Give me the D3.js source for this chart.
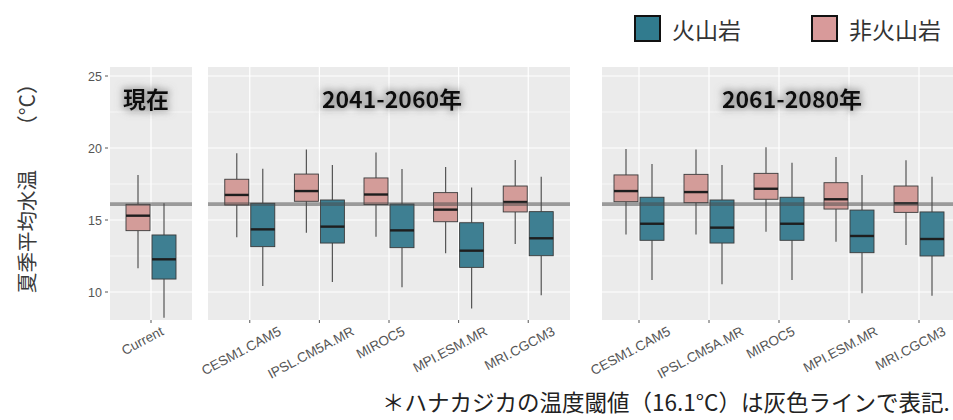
<!DOCTYPE html>
<html>
<head>
<meta charset="utf-8">
<script src="https://cdn.jsdelivr.net/npm/d3@7"></script>
<style>
  html, body { margin: 0; padding: 0; background: #fff; }
  svg { display: block; }
</style>
</head>
<body>
<svg id="chart" width="953" height="420"></svg>
<script>
// Summer mean water temperature by period, climate model and geology.
// Each box: [lower whisker, Q1, median, Q3, upper whisker] in °C.
const periods = ["現在", "2041-2060年", "2061-2080年"];
const currentCategories = ["Current"];
const models = ["CESM1.CAM5", "IPSL.CM5A.MR", "MIROC5", "MPI.ESM.MR", "MRI.CGCM3"];
const groups = ["非火山岩", "火山岩"];

const currentNonVolcanic = [[11.65, 14.26, 15.30, 16.09, 18.13]];
const currentVolcanic    = [[8.22, 10.90, 12.27, 13.96, 16.16]];

const midNonVolcanic = [
  [13.80, 16.04, 16.74, 17.83, 19.63],
  [14.12, 16.30, 17.01, 18.19, 19.90],
  [13.84, 16.07, 16.77, 17.92, 19.69],
  [12.69, 14.88, 15.72, 16.90, 18.68],
  [13.33, 15.56, 16.25, 17.36, 19.17]
];
const midVolcanic = [
  [10.42, 13.15, 14.35, 16.16, 18.56],
  [10.69, 13.40, 14.54, 16.39, 18.82],
  [10.33, 13.08, 14.28, 16.11, 18.54],
  [8.86, 11.71, 12.87, 14.81, 17.25],
  [9.77, 12.52, 13.73, 15.58, 18.00]
];
const lateNonVolcanic = [
  [13.99, 16.27, 17.01, 18.13, 19.93],
  [13.99, 16.20, 16.94, 18.17, 19.90],
  [14.19, 16.44, 17.17, 18.24, 20.05],
  [13.49, 15.76, 16.44, 17.59, 19.38],
  [13.26, 15.53, 16.16, 17.36, 19.15]
];
const lateVolcanic = [
  [10.83, 13.59, 14.74, 16.58, 18.89],
  [10.53, 13.40, 14.47, 16.39, 18.82],
  [10.83, 13.59, 14.74, 16.58, 18.98],
  [9.91, 12.73, 13.89, 15.69, 18.13],
  [9.74, 12.50, 13.68, 15.56, 18.00]
];

const yTicks = [10, 15, 20, 25];
const yMinorTicks = [12.5, 17.5, 22.5];
const threshold = 16.1;

const groupColors = { "非火山岩": "#d39c99", "火山岩": "#3e7f92" };
const legendColors = { "火山岩": "#317b8e", "非火山岩": "#d89a9a" };

const svg = d3.select("#chart");

// Glow behind the panel titles
const defs = svg.append("defs");
const glow = defs.append("filter").attr("id", "glow")
  .attr("x", "-30%").attr("y", "-60%").attr("width", "160%").attr("height", "220%");
glow.append("feMorphology").attr("in", "SourceAlpha").attr("operator", "dilate").attr("radius", 2).attr("result", "d");
glow.append("feGaussianBlur").attr("in", "d").attr("stdDeviation", 3.5).attr("result", "b");
glow.append("feFlood").attr("flood-color", "#7a7a7a").attr("flood-opacity", 0.55);
glow.append("feComposite").attr("in2", "b").attr("operator", "in").attr("result", "g");
const merge = glow.append("feMerge");
merge.append("feMergeNode").attr("in", "g");
merge.append("feMergeNode").attr("in", "SourceGraphic");

const panelTop = 67, panelBottom = 320;
const y = d3.scaleLinear().domain([10, 25]).range([292, 76]);

const panels = [
  { title: periods[0], cats: currentCategories, lo: 110, hi: 192, range: [110, 192], titleX: 146, nonV: currentNonVolcanic, vol: currentVolcanic },
  { title: periods[1], cats: models, lo: 208, hi: 570, range: [208, 570], titleX: 392, nonV: midNonVolcanic, vol: midVolcanic },
  { title: periods[2], cats: models, lo: 602, hi: 953, range: [597, 961], titleX: 792, nonV: lateNonVolcanic, vol: lateVolcanic }
];

const dodge = d3.scaleBand().domain(groups).range([-25, 25]).paddingInner(2 / 26);

panels.forEach(p => {
  const x = d3.scalePoint().domain(p.cats).range(p.range).padding(0.6);
  const g = svg.append("g");

  g.append("rect")
    .attr("x", p.lo).attr("y", panelTop)
    .attr("width", p.hi - p.lo).attr("height", panelBottom - panelTop)
    .attr("fill", "#ebebeb");

  g.selectAll(".minor").data(yMinorTicks).join("line")
    .attr("x1", p.lo).attr("x2", p.hi)
    .attr("y1", d => y(d)).attr("y2", d => y(d))
    .attr("stroke", "#fff").attr("stroke-width", 0.6);
  g.selectAll(".major").data(yTicks).join("line")
    .attr("x1", p.lo).attr("x2", p.hi)
    .attr("y1", d => y(d)).attr("y2", d => y(d))
    .attr("stroke", "#fff").attr("stroke-width", 1.2);
  g.selectAll(".vgrid").data(p.cats).join("line")
    .attr("x1", d => x(d)).attr("x2", d => x(d))
    .attr("y1", panelTop).attr("y2", panelBottom)
    .attr("stroke", "#fff").attr("stroke-width", 1.2);

  // x ticks
  g.selectAll(".xtick").data(p.cats).join("line")
    .attr("x1", d => x(d)).attr("x2", d => x(d))
    .attr("y1", panelBottom).attr("y2", panelBottom + 3)
    .attr("stroke", "#555").attr("stroke-width", 1);

  // boxes
  const rows = [];
  p.cats.forEach((c, i) => {
    rows.push({ cat: c, grp: "非火山岩", s: p.nonV[i] });
    rows.push({ cat: c, grp: "火山岩", s: p.vol[i] });
  });
  const bw = dodge.bandwidth();
  const box = g.selectAll(".box").data(rows).join("g");
  const cx = d => x(d.cat) + dodge(d.grp) + bw / 2;
  box.append("line")
    .attr("x1", cx).attr("x2", cx)
    .attr("y1", d => y(d.s[0])).attr("y2", d => y(d.s[1]))
    .attr("stroke", "#555").attr("stroke-width", 1.2);
  box.append("line")
    .attr("x1", cx).attr("x2", cx)
    .attr("y1", d => y(d.s[3])).attr("y2", d => y(d.s[4]))
    .attr("stroke", "#555").attr("stroke-width", 1.2);
  box.append("rect")
    .attr("x", d => x(d.cat) + dodge(d.grp))
    .attr("width", bw)
    .attr("y", d => y(d.s[3]))
    .attr("height", d => y(d.s[1]) - y(d.s[3]))
    .attr("fill", d => groupColors[d.grp])
    .attr("stroke", "#3a3a3a").attr("stroke-width", 0.9);
  box.append("line")
    .attr("x1", d => x(d.cat) + dodge(d.grp)).attr("x2", d => x(d.cat) + dodge(d.grp) + bw)
    .attr("y1", d => y(d.s[2])).attr("y2", d => y(d.s[2]))
    .attr("stroke", "#1e1e1e").attr("stroke-width", 2.4);

  // temperature threshold line
  g.append("line")
    .attr("x1", p.lo).attr("x2", p.hi)
    .attr("y1", y(threshold)).attr("y2", y(threshold))
    .attr("stroke", "#4a4a4a").attr("stroke-opacity", 0.5).attr("stroke-width", 3.6);

  // panel title
  g.append("text")
    .attr("x", p.titleX)
    .attr("y", 108)
    .attr("text-anchor", "middle")
    .attr("font-family", "'Noto Sans CJK JP', sans-serif")
    .attr("font-weight", "bold")
    .attr("font-size", 23)
    .attr("fill", "#111")
    .attr("filter", "url(#glow)")
    .text(p.title);

  // rotated category labels: centred under the tick, tops aligned
  const angle = 28, rad = angle * Math.PI / 180, fs = 13.5;
  p.cats.forEach(c => {
    const t = g.append("text")
      .attr("font-family", "'Liberation Sans', Arial, sans-serif")
      .attr("font-size", fs)
      .attr("fill", "#555")
      .attr("text-anchor", "middle")
      .attr("dominant-baseline", "central")
      .text(c);
    const L = t.node().getComputedTextLength();
    const h = fs * 0.72;
    const cy = 326 + (L * Math.sin(rad) + h * Math.cos(rad)) / 2;
    t.attr("transform", `translate(${x(c) - 8.5},${cy}) rotate(${-angle})`);
  });
});

// y axis on the first panel
const yAxisG = svg.append("g");
yAxisG.selectAll("line").data(yTicks).join("line")
  .attr("x1", 105).attr("x2", 108)
  .attr("y1", d => y(d)).attr("y2", d => y(d))
  .attr("stroke", "#555").attr("stroke-width", 1);
yAxisG.selectAll("text").data(yTicks).join("text")
  .attr("x", 102).attr("y", d => y(d))
  .attr("dy", "0.36em")
  .attr("text-anchor", "end")
  .attr("font-family", "'Liberation Sans', Arial, sans-serif")
  .attr("font-size", 12.5)
  .attr("fill", "#555")
  .text(d => d);

// y axis title, in two parts with a gap before the unit
const yTitle = svg.append("g").attr("font-family", "'Noto Sans CJK JP', sans-serif").attr("fill", "#3a3a3a");
yTitle.append("text")
  .attr("transform", "translate(26,293) rotate(-90)")
  .attr("dominant-baseline", "central")
  .attr("font-size", 20.5)
  .text("夏季平均水温");
yTitle.append("text")
  .attr("transform", "translate(26,73) rotate(-90)")
  .attr("text-anchor", "end")
  .attr("dominant-baseline", "central")
  .attr("font-size", 21)
  .text("（°C）");

// legend
const legendItems = [
  { label: "火山岩", x: 635 },
  { label: "非火山岩", x: 812 }
];
const lg = svg.append("g").selectAll("g").data(legendItems).join("g");
lg.append("rect")
  .attr("x", d => d.x).attr("y", 16)
  .attr("width", 25).attr("height", 25)
  .attr("fill", d => legendColors[d.label])
  .attr("stroke", "#111").attr("stroke-width", 2);
lg.append("text")
  .attr("x", d => d.x + 37).attr("y", 29)
  .attr("dominant-baseline", "central")
  .attr("font-family", "'Noto Sans CJK JP', sans-serif")
  .attr("font-size", 23)
  .attr("fill", "#333")
  .text(d => d.label);

// footnote
svg.append("text")
  .attr("x", 382).attr("y", 411)
  .attr("font-family", "'Noto Sans CJK JP', sans-serif")
  .attr("font-size", 22.5)
  .attr("fill", "#222")
  .text("＊ハナカジカの温度閾値（16.1°C）は灰色ラインで表記.");
</script>
</body>
</html>
